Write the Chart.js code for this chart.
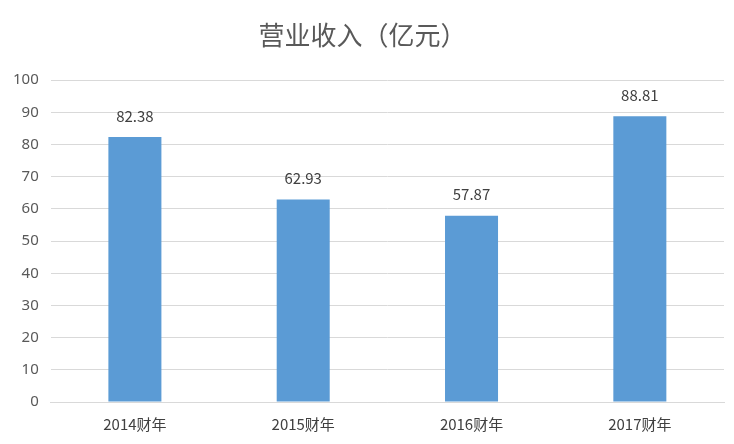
<!DOCTYPE html>
<html>
<head>
<meta charset="utf-8">
<script src="https://cdn.jsdelivr.net/npm/chart.js@4/dist/chart.umd.min.js"></script>
<style>
  body { margin: 0; background: #fff; }
  #c { display: block; }
</style>
</head>
<body>
<canvas id="c" width="734" height="444"></canvas>
<script>
const years = ["2014财年", "2015财年", "2016财年", "2017财年"];
const revenue = [82.38, 62.93, 57.87, 88.81];
const titleText = "营业收入（亿元）";

// 柱顶数值
const valueLabels = {
  id: "valueLabels",
  afterDatasetsDraw(chart) {
    const ctx = chart.ctx;
    const meta = chart.getDatasetMeta(0);
    ctx.save();
    ctx.font = "15px 'Noto Sans CJK SC', 'Noto Sans', sans-serif";
    ctx.fillStyle = "#404040";
    ctx.textAlign = "center";
    ctx.textBaseline = "middle";
    meta.data.forEach((bar, i) => {
      ctx.fillText(revenue[i].toFixed(2), bar.x, bar.y - 21);
    });
    ctx.restore();
  }
};

new Chart(document.getElementById("c"), {
  type: "bar",
  data: {
    labels: years,
    datasets: [{
      data: revenue,
      backgroundColor: "#5B9BD5",
      barPercentage: 0.315,
      categoryPercentage: 1
    }]
  },
  options: {
    responsive: false,
    animation: false,
    layout: { padding: { left: 1, right: 10, top: 10, bottom: -2 } },
    plugins: {
      legend: { display: false },
      tooltip: { enabled: false },
      title: {
        display: true,
        text: titleText,
        color: "#595959",
        font: { size: 26, family: "'Noto Sans CJK SC', sans-serif", weight: "normal" },
        padding: { top: 10, bottom: 29 }
      }
    },
    scales: {
      y: {
        min: 0,
        max: 100,
        ticks: {
          stepSize: 10,
          color: "#595959",
          padding: 12,
          font: { size: 15, family: "'Noto Sans', sans-serif" }
        },
        grid: { color: "#d9d9d9", drawTicks: false },
        border: { display: false }
      },
      x: {
        ticks: {
          color: "#404040",
          padding: 13,
          font: { size: 15, family: "'Noto Sans CJK SC', sans-serif" }
        },
        grid: { display: false, drawTicks: false },
        border: { color: "#d9d9d9" }
      }
    }
  },
  plugins: [valueLabels]
});
</script>
</body>
</html>
